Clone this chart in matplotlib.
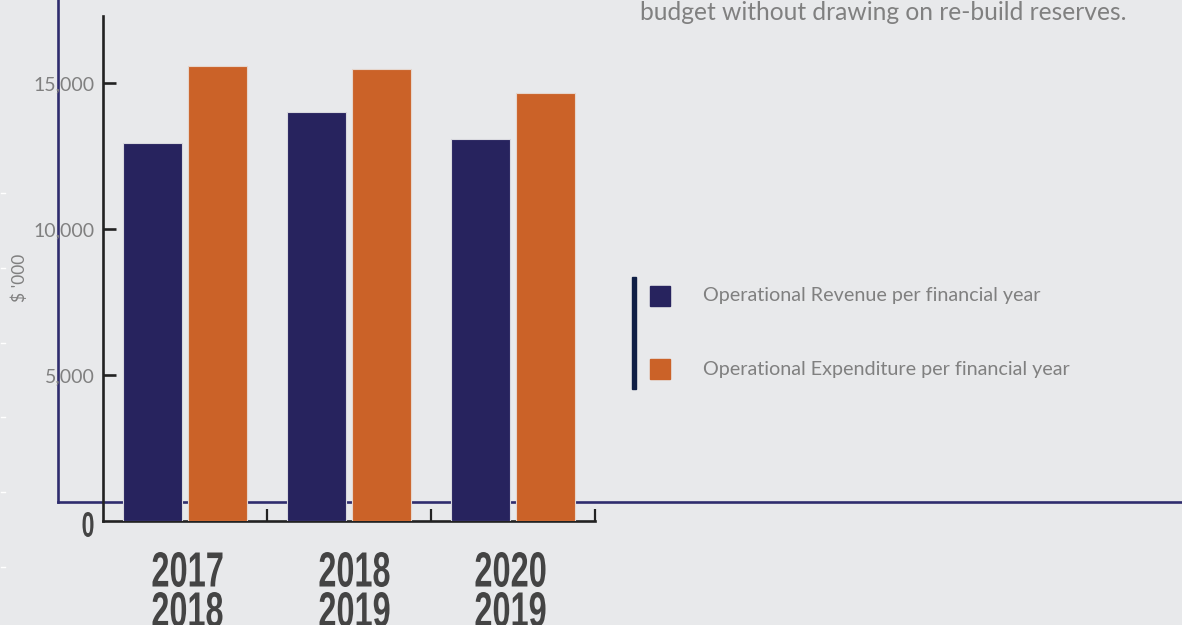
import matplotlib
matplotlib.use("Agg")
import matplotlib.pyplot as plt
import numpy as np
from matplotlib.font_manager import FontProperties
from matplotlib.textpath import TextPath
from matplotlib.patches import PathPatch, Rectangle
from matplotlib.lines import Line2D
from matplotlib.transforms import Affine2D

# ── data ──────────────────────────────────────────────────
years_top    = ["2017", "2018", "2020"]
years_bottom = ["2018", "2019", "2019"]
revenue      = [12950, 14000, 13100]
expenditure  = [15580, 15480, 14660]
y_ticks      = [5000, 10000, 15000]
y_tick_labels = ["5,000", "10,000", "15,000"]
legend_labels = ["Operational Revenue per financial year",
                 "Operational Expenditure per financial year"]
note_text = "budget without drawing on re-build reserves."

# ── style ─────────────────────────────────────────────────
W, H      = 1182, 625
BG        = "#e8e9eb"
NAVY      = "#27235e"
ORANGE    = "#cb6228"
FRAME     = "#2f2d6e"
GREY_TXT  = "#808080"
DARK_TXT  = "#444444"
AXIS_COL  = "#222222"
LIGHT     = ["Lato", "DejaVu Sans"]

fig = plt.figure(figsize=(W / 100, H / 100), dpi=100, facecolor=BG)

# axes placed in pixel terms: x 103..595, y 16..521 (from top)
ax = fig.add_axes([103 / W, (H - 521) / H, (595 - 103) / W, (521 - 16) / H])
ax.set_facecolor("none")

x = np.arange(len(years_top))
bw = 0.36
off = 0.201
ax.bar(x - off, revenue, bw, color=NAVY, edgecolor="#d8d8de", linewidth=0.8, zorder=3)
ax.bar(x + off, expenditure, bw, color=ORANGE, edgecolor="#e6d6cc", linewidth=0.8, zorder=3)

ax.set_xlim(-0.5, 2.5)
ax.set_ylim(0, 17300)

for s in ["top", "right"]:
    ax.spines[s].set_visible(False)
for s in ["left", "bottom"]:
    ax.spines[s].set_color(AXIS_COL)
    ax.spines[s].set_linewidth(1.9)
    ax.spines[s].set_zorder(2)

ax.set_yticks(y_ticks)
ax.set_yticklabels(y_tick_labels, fontfamily=LIGHT, fontweight="normal",
                   fontsize=14, color=GREY_TXT)
ax.tick_params(axis="y", direction="in", length=9, width=1.9, color=AXIS_COL, pad=6)
ax.set_xticks([0.5, 1.5, 2.5])
ax.set_xticklabels([])
ax.tick_params(axis="x", direction="in", length=9, width=1.6, color=AXIS_COL)

# frame line running behind the chart
fig.add_artist(Line2D([58 / W, 58 / W], [1, (H - 502) / H], color=FRAME, lw=1.9, zorder=-1))
fig.add_artist(Line2D([58 / W, 1], [(H - 502) / H, (H - 502) / H], color=FRAME, lw=1.9, zorder=-1))

# small white dashes on the left edge
for yp in [193, 268, 343, 417, 492, 567]:
    fig.add_artist(Line2D([1 / W, 5 / W], [(H - yp) / H] * 2, color="white", lw=1, zorder=-1))

fig.text(20 / W, (H - 278) / H, "$ '000", rotation=90, ha="center", va="center",
         fontfamily=LIGHT, fontweight="normal", fontsize=12.5, color=GREY_TXT)

fig.text(640 / W, (H - 20) / H, note_text, ha="left", va="baseline",
         fontfamily=LIGHT, fontweight="normal", fontsize=17.7, color=GREY_TXT)


# condensed bold numerals, squeezed into a given pixel box
def condensed(s, cx, top, w, h, color=DARK_TXT):
    fp = FontProperties(family=["Liberation Sans Narrow", "Liberation Sans", "DejaVu Sans"],
                        weight="bold")
    tp = TextPath((0, 0), s, size=100, prop=fp)
    ext = tp.get_extents()
    tr = (Affine2D()
          .translate(-ext.x0 - ext.width / 2, -ext.y0)
          .scale(w / ext.width, h / ext.height)
          .translate(cx, H - top - h)
          .scale(1 / W, 1 / H)) + fig.transFigure
    fig.add_artist(PathPatch(tp, transform=tr, facecolor=color, edgecolor="none"))


label_shift = [2.5, 5.5, -2.5]
group_px = ax.transData.transform(np.column_stack([x, np.zeros_like(x)]))[:, 0]
for gx, dx, a, b in zip(group_px, label_shift, years_top, years_bottom):
    condensed(a, gx + dx, 552, 70, 35)
    condensed(b, gx + dx, 592, 70, 35)
condensed("0", 88, 512, 11, 25)

# legend
fig.add_artist(Rectangle((632 / W, (H - 389) / H), 4 / W, 112 / H,
                         transform=fig.transFigure, color="#0f1e45"))
for i, (lab, col) in enumerate(zip(legend_labels, [NAVY, ORANGE])):
    yc = 296 + 73 * i
    fig.add_artist(Rectangle((650 / W, (H - yc - 10) / H), 20 / W, 20 / H,
                             transform=fig.transFigure, color=col))
    fig.text(703 / W, (H - yc) / H, lab, ha="left", va="center",
             fontfamily=LIGHT, fontweight="normal", fontsize=14.25, color=GREY_TXT)

fig.savefig("out.png", dpi=100, facecolor=BG)
